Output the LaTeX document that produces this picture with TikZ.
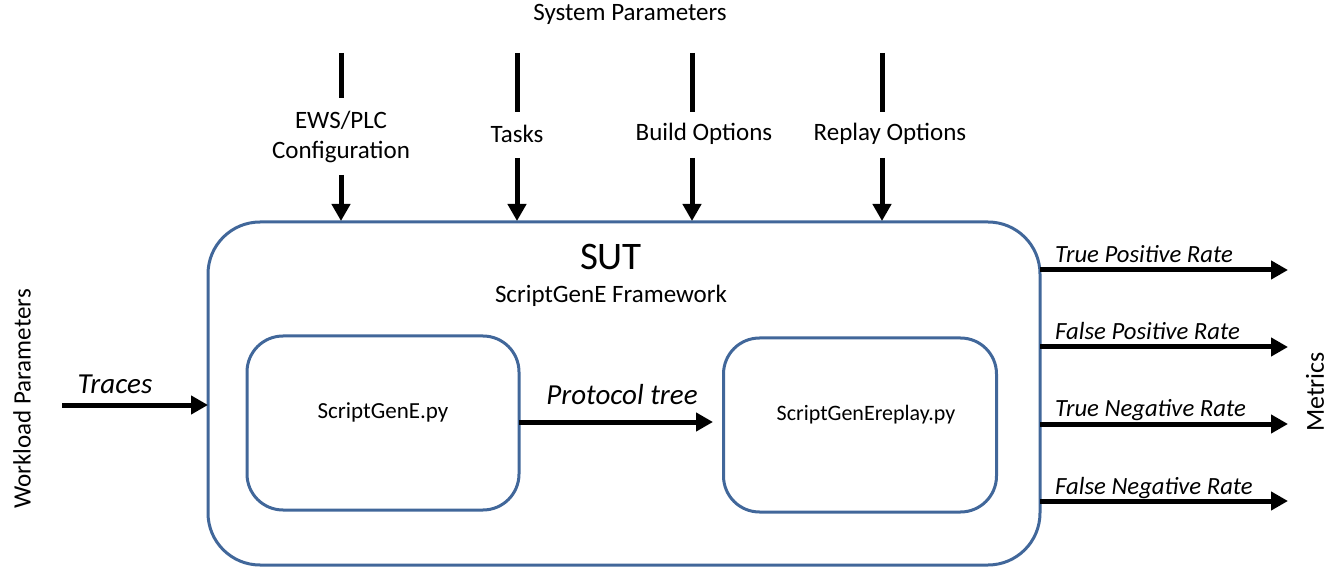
\documentclass[tikz,border=0pt]{standalone}
\usepackage{fontspec}
\setmainfont{Carlito}
\usetikzlibrary{arrows.meta}
\definecolor{boxblue}{HTML}{41679A}
\tikzset{
  x=1pt,y=-1pt,
  sutbox/.style={draw=boxblue,line width=3pt,rounded corners=52pt},
  innerbox/.style={draw=boxblue,line width=3pt,rounded corners=36pt},
  thick arrow/.style={line width=5pt,-{Triangle[length=17pt,width=18pt]}},
  thick line/.style={line width=5pt},
  lbl/.style={font=\fontsize{25}{30}\selectfont,inner sep=0pt},
  ilbl/.style={font=\fontsize{24.7}{29}\selectfont\itshape,inner sep=0pt},
}
\begin{document}
\begin{tikzpicture}
\useasboundingbox (0,0) rectangle (1342,569);
% boxes
\node[sutbox,minimum width=832pt,minimum height=343pt] (sutb) at (624,393.5) {};
\coordinate (sutW) at (208,405);
\node[innerbox,minimum width=272pt,minimum height=174pt] (gen) at (383,423) {};
\node[innerbox,minimum width=273pt,minimum height=174pt] (rep) at (860,425) {};
\node[lbl,font=\fontsize{23}{27}\selectfont] at (383,412) {ScriptGenE.py};
\node[lbl,font=\fontsize{22}{26}\selectfont] at (866,415) {ScriptGenEreplay.py};
\node[lbl,font=\fontsize{39}{45}\selectfont] (sut) at (611,257) {SUT};
\node[lbl] at (611,296) {ScriptGenE Framework};
% protocol tree
\coordinate (pt1) at (519,422);
\coordinate (pt2) at (713,422);
\draw[thick arrow] (pt1) -- (pt2);
\node[ilbl,font=\fontsize{29}{34}\selectfont\itshape] at (622,395) {Protocol tree};
% traces
\coordinate (tr1) at (62,405);
\draw[thick arrow] (tr1) -- (sutW);
\node[ilbl,font=\fontsize{29}{34}\selectfont\itshape] at (115,384) {Traces};
\node[lbl,rotate=90] at (22,399) {Workload Parameters};
% system parameters
\node[lbl] at (630,14) {System Parameters};
\foreach \x/\ya/\yb/\yc in {341/53/98/175, 517/53/112/158, 692/53/112/158, 882/53/112/158}{
  \draw[thick line] (\x,\ya) -- (\x,\yb);
  \draw[thick arrow] (\x,\yc) -- (\x,221);
}
\node[lbl,align=center] at (341,137) {EWS/PLC\\Configuration};
\node[lbl] at (517,134) {Tasks};
\node[lbl] at (704,134) {Build Options};
\node[lbl] at (890,134) {Replay Options};
% metrics
\foreach \y/\t in {270/True Positive Rate, 347/False Positive Rate, 424/True Negative Rate, 501/False Negative Rate}{
  \draw[thick arrow] (1040,\y) -- (1288,\y);
  \node[ilbl,anchor=base west] at (1055,\y-7) {\t};
}
\node[lbl,font=\fontsize{26}{30}\selectfont,rotate=90] at (1315,392) {Metrics};
\end{tikzpicture}
\end{document}
